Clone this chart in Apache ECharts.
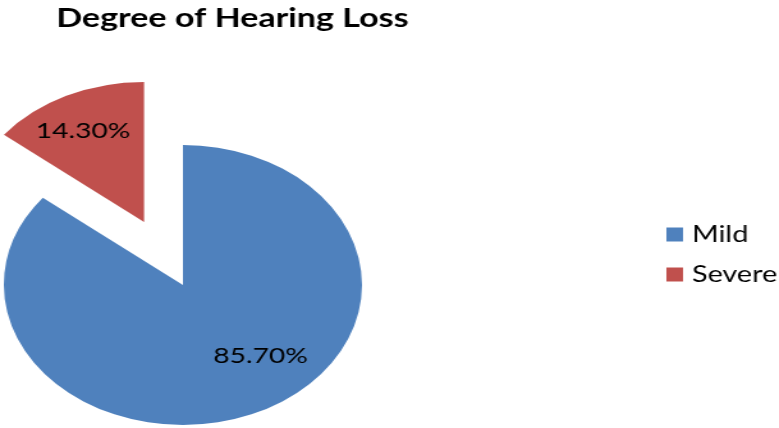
<!DOCTYPE html>
<html>
<head>
<meta charset="utf-8">
<script src="https://cdn.jsdelivr.net/npm/echarts@6/dist/echarts.min.js"></script>
<style>
html,body{margin:0;padding:0;background:#fff;overflow:hidden;}
#wrap{width:779px;height:428px;overflow:hidden;}
#chart{width:609px;height:428px;transform:scaleX(1.2791);transform-origin:0 0;}
</style>
</head>
<body>
<div id="wrap"><div id="chart"></div></div>
<script>
const titleText = 'Degree of Hearing Loss';
const categories = ['Mild', 'Severe'];
const values = [85.7, 14.3];
const explodedIndex = 1;

const colors = ['#4F81BD', '#C0504D'];
const labelShift = [[29, 5], [-16, -25]];

const chart = echarts.init(document.getElementById('chart'), null, {renderer: 'canvas'});
chart.setOption({
  animation: false,
  color: colors,
  title: {
    text: titleText,
    left: 39,
    top: 0,
    textStyle: {fontFamily: 'Lato', fontWeight: 'bold', fontSize: 26.6, color: '#000'}
  },
  legend: {
    orient: 'vertical',
    left: 516,
    top: 218,
    itemWidth: 13,
    itemHeight: 14,
    itemGap: 17,
    selectedMode: false,
    icon: 'rect',
    textStyle: {fontFamily: 'Lato', fontSize: 22.5, color: '#000', padding: [0, 0, 0, 2]},
    data: categories
  },
  series: [{
    type: 'pie',
    center: [143, 285],
    radius: 140,
    startAngle: 90,
    clockwise: true,
    selectedMode: 'single',
    selectedOffset: 70,
    silent: true,
    emphasis: {disabled: true},
    label: {
      show: true,
      position: 'inside',
      fontFamily: 'Lato',
      fontSize: 22,
      color: '#000',
      formatter: p => p.value.toFixed(2) + '%'
    },
    labelLine: {show: false},
    labelLayout: p => ({dx: labelShift[p.dataIndex][0], dy: labelShift[p.dataIndex][1]}),
    data: categories.map((c, i) => ({name: c, value: values[i], selected: i === explodedIndex}))
  }]
});
</script>
</body>
</html>
